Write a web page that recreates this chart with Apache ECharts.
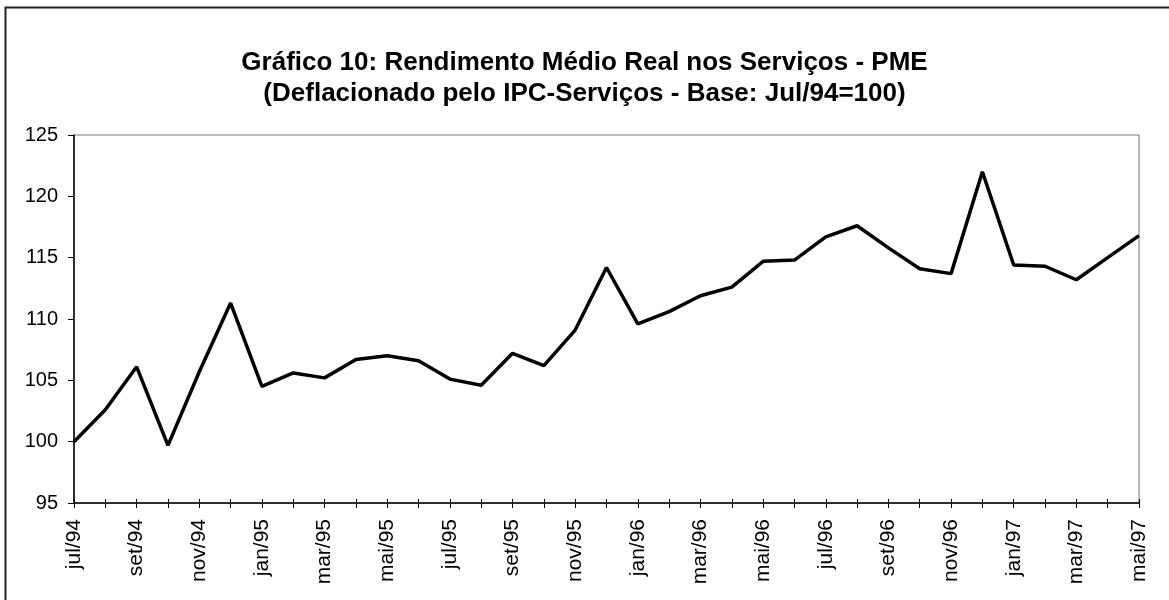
<!DOCTYPE html>
<html>
<head>
<meta charset="utf-8">
<title>Gráfico 10</title>
<script src="https://cdn.jsdelivr.net/npm/echarts@6/dist/echarts.min.js"></script>
<style>
  html, body { margin: 0; padding: 0; background: #fff; }
  #chart { width: 1169px; height: 600px; }
</style>
</head>
<body>
<div id="chart"></div>
<script>
// meses (jul/94 a mai/97)
const months = [
  'jul/94', 'ago/94', 'set/94', 'out/94', 'nov/94', 'dez/94',
  'jan/95', 'fev/95', 'mar/95', 'abr/95', 'mai/95', 'jun/95',
  'jul/95', 'ago/95', 'set/95', 'out/95', 'nov/95', 'dez/95',
  'jan/96', 'fev/96', 'mar/96', 'abr/96', 'mai/96', 'jun/96',
  'jul/96', 'ago/96', 'set/96', 'out/96', 'nov/96', 'dez/96',
  'jan/97', 'fev/97', 'mar/97', 'abr/97', 'mai/97'
]

// rendimento médio real (índice jul/94 = 100)
const rendimento = [
  100.0, 102.6, 106.1, 99.7, 105.7, 111.3,
  104.5, 105.6, 105.2, 106.7, 107.0, 106.6,
  105.1, 104.6, 107.2, 106.2, 109.1, 114.2,
  109.6, 110.6, 111.9, 112.6, 114.7, 114.8,
  116.7, 117.6, 115.8, 114.1, 113.7, 122.0,
  114.4, 114.3, 113.2, 115.0, 116.8
]

const titleLines = [
  'Gráfico 10: Rendimento Médio Real nos Serviços - PME',
  '(Deflacionado pelo IPC-Serviços - Base: Jul/94=100)'
]

const font = 'Liberation Sans, Arial, sans-serif'

const chart = echarts.init(document.getElementById('chart'))

const option = {
  backgroundColor: '#fff',
  animation: false,
  title: {
    text: titleLines.join('\n'),
    left: 'center',
    top: 42,
    textStyle: {
      fontFamily: font,
      fontWeight: 'bold',
      fontSize: 26,
      lineHeight: 31,
      color: '#000'
    }
  },
  graphic: [{
    type: 'rect',
    shape: { x: 5.5, y: 7.5, width: 1180, height: 600 },
    style: { fill: 'none', stroke: '#222', lineWidth: 2 },
    silent: true,
    z: -1
  }],
  grid: {
    left: 74, right: 30, top: 135, bottom: 97,
    show: true,
    borderColor: '#777',
    borderWidth: 1
  },
  xAxis: [{
    type: 'category',
    data: months,
    boundaryGap: false,
    axisLine: { lineStyle: { color: '#000', width: 1.5 } },
    axisTick: { show: true, interval: 0, length: 5, lineStyle: { color: '#000' } },
    axisLabel: {
      interval: 1,
      rotate: 90,
      margin: 16,
      fontFamily: font,
      fontSize: 21,
      color: '#000'
    },
    splitLine: { show: false }
  }, {
    // ticks para dentro, para que cruzem o eixo
    type: 'category',
    data: months,
    position: 'bottom',
    boundaryGap: false,
    axisLine: { show: false },
    axisTick: { show: true, inside: true, interval: 0, length: 4, lineStyle: { color: '#000' } },
    axisLabel: { show: false },
    splitLine: { show: false }
  }],
  yAxis: {
    type: 'value',
    min: 95,
    max: 125,
    interval: 5,
    axisLine: { show: true, lineStyle: { color: '#000', width: 1.5 } },
    axisTick: { show: true, length: 6, lineStyle: { color: '#000' } },
    axisLabel: {
      margin: 16,
      fontFamily: font,
      fontSize: 20,
      color: '#000'
    },
    splitLine: { show: false }
  },
  series: [{
    type: 'line',
    data: rendimento,
    showSymbol: false,
    lineStyle: { color: '#000', width: 3.5 },
    itemStyle: { color: '#000' }
  }]
}

chart.setOption(option)
</script>
</body>
</html>
